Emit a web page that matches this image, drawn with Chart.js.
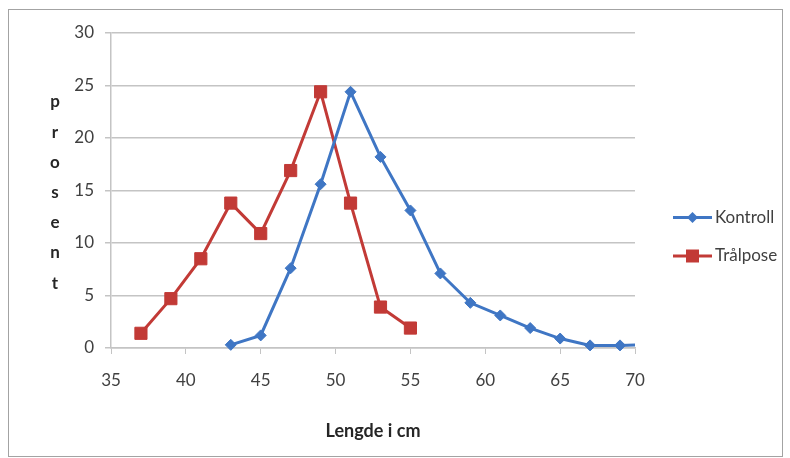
<!DOCTYPE html>
<html>
<head>
<meta charset="utf-8">
<script src="https://cdn.jsdelivr.net/npm/chart.js@4/dist/chart.umd.min.js"></script>
<style>
  html, body { margin: 0; padding: 0; background: #fff; }
  #wrap { width: 790px; height: 458px; }
</style>
</head>
<body>
<div id="wrap"><canvas id="myChart" width="790" height="458"></canvas></div>
<script>
const lengthsKontroll = [43, 45, 47, 49, 51, 53, 55, 57, 59, 61, 63, 65, 67, 69, 71];
const kontroll = [0.3, 1.2, 7.6, 15.6, 24.4, 18.2, 13.1, 7.1, 4.3, 3.1, 1.9, 0.9, 0.25, 0.25, 0.3];

const lengthsTral = [37, 39, 41, 43, 45, 47, 49, 51, 53, 55];
const tralpose = [1.4, 4.7, 8.5, 13.8, 10.9, 16.9, 24.4, 13.8, 3.9, 1.9];

const xTicks = [35, 40, 45, 50, 55, 60, 65, 70];
const yTicks = [0, 5, 10, 15, 20, 25, 30];
const yTitle = "prosent";
const xTitle = "Lengde i cm";

const blue = "#3f76c4";
const red = "#c23a36";
const font = "Lato";

const ctx = document.getElementById("myChart").getContext("2d");

function pairs(xs, ys) {
  return xs.map((x, i) => ({ x: x, y: ys[i] }));
}

// white page, frame, stacked y title and the legend
const decor = {
  id: "decor",
  beforeDraw(chart) {
    const c = chart.ctx;
    c.save();
    c.fillStyle = "#fff";
    c.fillRect(0, 0, chart.width, chart.height);
    c.strokeStyle = "#a3a3a3";
    c.lineWidth = 1;
    c.strokeRect(8.5, 9.5, 774, 447);
    c.restore();
  },
  afterDraw(chart) {
    const c = chart.ctx;
    c.save();
    c.fillStyle = "#262626";
    c.font = "bold 17px " + font;
    c.textAlign = "center";
    c.textBaseline = "middle";
    yTitle.split("").forEach((ch, i) => {
      c.fillText(ch, 55, 102 + i * 30.2);
    });

    chart.data.datasets.forEach((ds, i) => {
      const y = 217.5 + i * 38.5;
      c.strokeStyle = ds.borderColor;
      c.lineWidth = 3;
      c.beginPath();
      c.moveTo(673, y);
      c.lineTo(712, y);
      c.stroke();
      c.fillStyle = ds.backgroundColor;
      c.beginPath();
      if (ds.pointStyle === "rectRot") {
        const r = 5.5;
        c.moveTo(692.5 - r, y);
        c.lineTo(692.5, y - r);
        c.lineTo(692.5 + r, y);
        c.lineTo(692.5, y + r);
        c.closePath();
      } else {
        c.rect(692.5 - 6.5, y - 6.5, 13, 13);
      }
      c.fill();
      c.fillStyle = "#404040";
      c.font = "17px " + font;
      c.textAlign = "left";
      c.fillText(ds.label, 715, y);
    });
    c.restore();
  },
};

const data = {
  datasets: [
    {
      label: "Kontroll",
      data: pairs(lengthsKontroll, kontroll),
      borderColor: blue,
      backgroundColor: blue,
      borderWidth: 3,
      pointStyle: "rectRot",
      pointRadius: 5.5,
      pointBorderWidth: 1,
      clip: { left: 12, top: 12, right: 0, bottom: 12 },
    },
    {
      label: "Trålpose",
      data: pairs(lengthsTral, tralpose),
      borderColor: red,
      backgroundColor: red,
      borderWidth: 3,
      pointStyle: "rect",
      pointRadius: 8.6,
      pointBorderWidth: 1,
      clip: { left: 12, top: 12, right: 0, bottom: 12 },
    },
  ],
};

const config = {
  type: "line",
  data: data,
  plugins: [decor],
  options: {
    responsive: false,
    animation: false,
    layout: { padding: { left: 0, right: 155, top: 33, bottom: 0 } },
    plugins: {
      legend: { display: false },
      tooltip: { enabled: false },
    },
    scales: {
      x: {
        type: "linear",
        min: 35,
        max: 70,
        afterBuildTicks: (s) => { s.ticks = xTicks.map((v) => ({ value: v })); },
        afterFit: (s) => { s.height = 110; },
        grid: { drawOnChartArea: false, drawTicks: true, tickLength: 6, color: "#c4c4c4" },
        border: { display: true, color: "#c4c4c4", width: 1.5 },
        ticks: { color: "#404040", font: { family: font, size: 17 }, padding: 16, maxRotation: 0 },
        title: {
          display: true,
          text: xTitle,
          color: "#262626",
          font: { family: font, size: 18, weight: "bold" },
          padding: { top: 0, bottom: 16 },
        },
      },
      y: {
        min: 0,
        max: 30,
        afterBuildTicks: (s) => { s.ticks = yTicks.map((v) => ({ value: v })); },
        afterFit: (s) => { s.width = 111; },
        grid: { color: "#c4c4c4", lineWidth: 1.5, drawTicks: true, tickLength: 6 },
        border: { display: true, color: "#c4c4c4", width: 1.5 },
        ticks: { color: "#404040", font: { family: font, size: 17 }, padding: 11 },
      },
    },
  },
};
const myChart = new Chart(ctx, config);
</script>
</body>
</html>
